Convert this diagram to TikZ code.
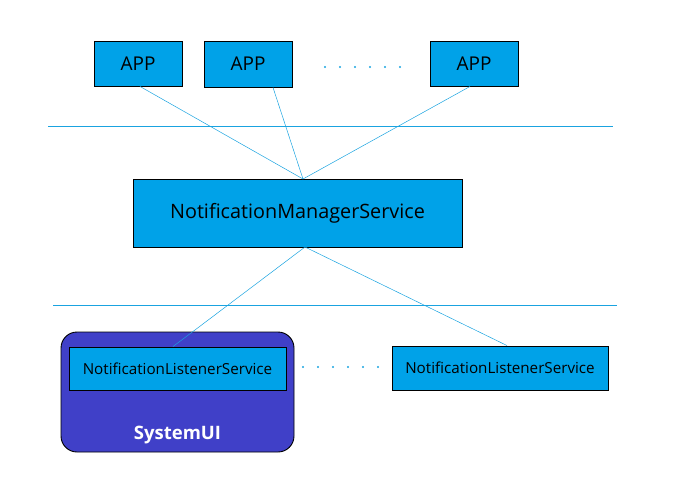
\documentclass[tikz,border=0pt]{standalone}
\usepackage{fontspec}
\setmainfont{Open Sans}
\definecolor{boxblue}{HTML}{00A2E8}
\definecolor{linkblue}{HTML}{1AA3E0}
\definecolor{sysui}{HTML}{4040C8}
\begin{document}
\begin{tikzpicture}[x=1pt,y=-1pt,
  box/.style={draw=black,line width=0.9pt,fill=boxblue,inner sep=0pt,font=\fontsize{19}{22}\selectfont},
  link/.style={draw=linkblue,line width=0.5pt},
  sep/.style={draw=linkblue,line width=0.5pt},
  dotline/.style={draw=linkblue,line width=2.2pt,line cap=round,dash pattern=on 0pt off 15pt}]
\useasboundingbox (0,0) rectangle (677,482);
\node[box,minimum width=88pt,minimum height=45pt] (app1) at (138,63.5) {APP};
\node[box,minimum width=88pt,minimum height=46pt] (app2) at (248,64) {APP};
\node[box,minimum width=88pt,minimum height=45pt] (app3) at (474,63.5) {APP};
\coordinate (d1a) at (325,67); \coordinate (d1b) at (401,67);
\draw[dotline] (d1a) -- (d1b);
\coordinate (s1a) at (48,126); \coordinate (s1b) at (613,126);
\draw[sep] (s1a) -- (s1b);
\node[box,minimum width=329pt,minimum height=68pt,font=\fontsize{19.8}{23}\selectfont] (nms) at (297.5,213) {NotificationManagerService};
\coordinate (s2a) at (53,305); \coordinate (s2b) at (617,305);
\draw[sep] (s2a) -- (s2b);
\node[draw=black,line width=0.9pt,fill=sysui,rounded corners=16pt,minimum width=233pt,minimum height=120pt,inner sep=0pt] (sys) at (177.5,392) {};
\node[font=\bfseries\fontsize{18.5}{21}\selectfont,text=white] (systxt) at (177.5,435) {SystemUI};
\node[box,minimum width=217pt,minimum height=43pt,font=\fontsize{15.2}{18}\selectfont] (nls1) at (177.5,368.5) {NotificationListenerService};
\node[box,minimum width=216pt,minimum height=44pt,font=\fontsize{15.2}{18}\selectfont] (nls2) at (500,368) {NotificationListenerService};
\coordinate (d2a) at (303,367); \coordinate (d2b) at (379,367);
\draw[dotline] (d2a) -- (d2b);
\coordinate (nmsT) at (303,179); \coordinate (nmsB) at (305,247);
\draw[link] ([xshift=2pt]app1.south) -- (nmsT);
\draw[link] ([xshift=25pt]app2.south) -- (nmsT);
\draw[link] ([xshift=-4pt]app3.south) -- (nmsT);
\draw[link] (nmsB) -- ([xshift=-4.5pt]nls1.north);
\draw[link] (nmsB) -- ([xshift=7pt]nls2.north);
\end{tikzpicture}
\end{document}
